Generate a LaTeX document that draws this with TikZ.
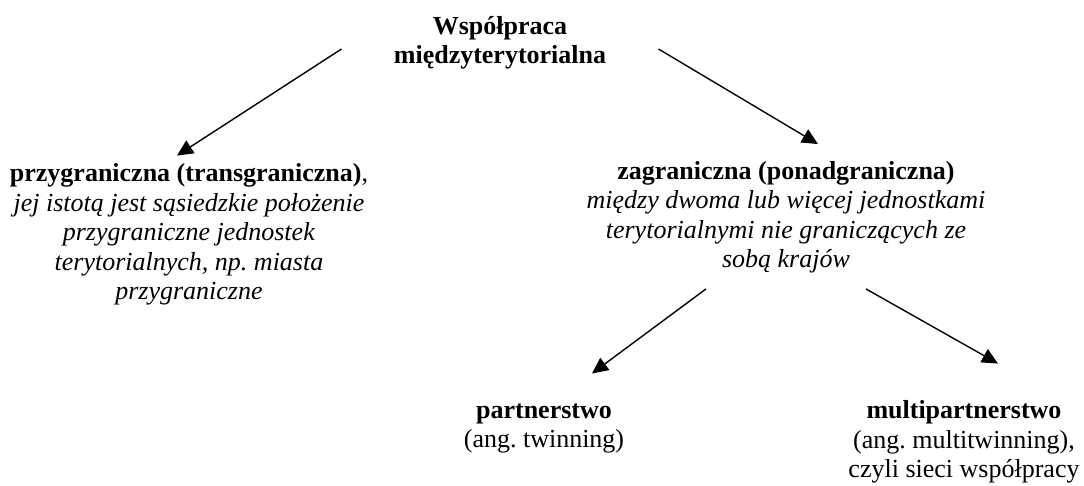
\documentclass[tikz,border=0pt]{standalone}
\usepackage{fontspec}
\setmainfont{Liberation Serif}
\frenchspacing
\usetikzlibrary{arrows.meta}
\tikzset{
  box/.style={align=center, inner sep=0pt, anchor=base, font=\fontsize{13}{14.75}\selectfont},
  arr/.style={-{Triangle[length=8pt,width=7.5pt]}, line width=0.7pt}
}
\begin{document}
\begin{tikzpicture}[x=0.5pt,y=-0.5pt]
% ramka
\useasboundingbox (0,0) rectangle (1084,486);

% Wezly (base = ostatnia linia)
\node [box] (top) at (500,64) {\textbf{Współpraca}\\\textbf{międzyterytorialna}};
\node [box] (left) at (189,300) {\textbf{przygraniczna (transgraniczna)},\\
  \textit{jej istotą jest sąsiedzkie położenie}\\
  \textit{przygraniczne jednostek}\\
  \textit{terytorialnych, np. miasta}\\
  \textit{przygraniczne}};
\node [box] (right) at (786,268) {\textbf{zagraniczna (ponadgraniczna)}\\
  \textit{między dwoma lub więcej jednostkami}\\
  \textit{terytorialnymi nie graniczących ze}\\
  \textit{sobą krajów}};
\node [box] (partner) at (544,448) {\textbf{partnerstwo}\\(ang. twinning)};
\node [box] (multi) at (964,478) {\textbf{multipartnerstwo}\\(ang. multitwinning),\\czyli sieci współpracy};

% Strzalki
\draw [arr] ([shift={(-52,6)}]top.west) -- ([shift={(-12,-8)}]left.north);
\draw [arr] ([shift={(52,6)}]top.east) -- ([shift={(32,-17)}]right.north);
\draw [arr] ([shift={(-80,15)}]right.south) -- ([shift={(48,-30)}]partner.north);
\draw [arr] ([shift={(80,15)}]right.south) -- ([shift={(34,-37)}]multi.north);
\end{tikzpicture}
\end{document}
